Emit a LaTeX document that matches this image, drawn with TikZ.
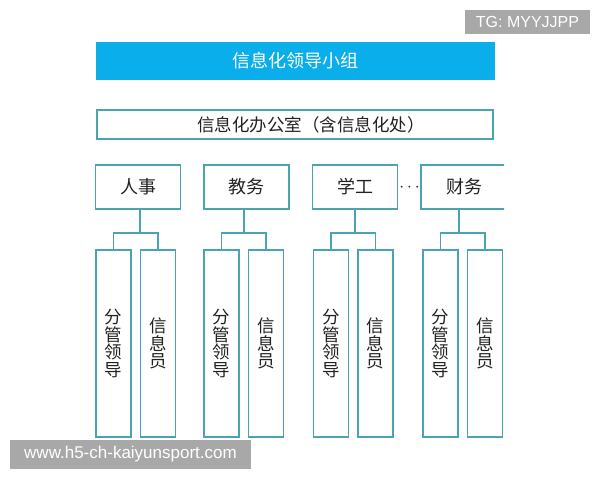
\documentclass[tikz,border=0pt]{standalone}
\usepackage{fontspec}
\setmainfont{Noto Sans CJK SC}
\newfontfamily\wmfont{Liberation Sans}
\definecolor{lineC}{HTML}{4AA3B1}
\definecolor{barC}{HTML}{0AAEEA}
\definecolor{txtC}{HTML}{222222}
\definecolor{wmC}{HTML}{A8A8A8}
\begin{document}
\begin{tikzpicture}[x=1pt,y=-1pt,
  box/.style={draw=lineC,line width=1.6pt,fill=white,inner sep=0pt,text=txtC},
  dept/.style={box,minimum width=85pt,minimum height=44pt,font=\fontsize{18}{18}\selectfont},
  col/.style={box,minimum width=35pt,minimum height=187pt,align=center,font=\fontsize{17.5}{17.6}\selectfont},
  conn/.style={draw=lineC,line width=1.6pt},
  wm/.style={fill=wmC,text=white,inner sep=0pt,font=\wmfont}]
\useasboundingbox (0,0) rectangle (600,480);
% top
\node[fill=barC,draw=barC!80!lineC,line width=0.6pt,minimum width=398pt,minimum height=37pt,inner sep=0pt,text=white,font=\fontsize{18}{18}\selectfont] (lead) at (295,60.5) {信息化领导小组};
\node[box,minimum width=396pt,minimum height=29pt] (office) at (295,124.5) {};
\node[text=txtC,inner sep=0pt,font=\fontsize{17.5}{17.5}\selectfont] (officetxt) at (311,124.5) {信息化办公室（含信息化处）};
% departments
\node[dept] (rs) at (138,187) {人事};
\node[dept] (jw) at (246.5,187) {教务};
\node[dept] (xg) at (355,187) {学工};
\begin{scope}
\clip (0,0) rectangle (504,480);
\node[dept,minimum width=86pt] (cw) at (464,187) {财务};
\end{scope}
\node[text=txtC,inner sep=0pt,font=\fontsize{18}{18}\selectfont] (dots) at (409.5,188) {$\cdots$};
% columns
\foreach \n/\x/\t in {c1a/113.5/{分\\管\\领\\导},c1b/158/{信\\息\\员},
  c2a/221.5/{分\\管\\领\\导},c2b/266/{信\\息\\员},
  c3a/331/{分\\管\\领\\导},c3b/375.5/{信\\息\\员},
  c4a/440.5/{分\\管\\领\\导},c4b/485/{信\\息\\员}}
  \node[col] (\n) at (\x,343.5) {\t};
% connectors
\coordinate (j1) at (140,233);
\coordinate (j2) at (244,233);
\coordinate (j3) at (355,233);
\coordinate (j4) at (459,233);
\draw[conn] (j1 |- rs.south) -- (j1);
\draw[conn] (j2 |- jw.south) -- (j2);
\draw[conn] (j3 |- xg.south) -- (j3);
\draw[conn] (j4 |- cw.south) -- (j4);
\draw[conn] (c1a.north) |- (j1) -| (c1b.north);
\draw[conn] (c2a.north) |- (j2) -| (c2b.north);
\draw[conn] (c3a.north) |- (j3) -| (c3b.north);
\draw[conn] (c4a.north) |- (j4) -| (c4b.north);
% watermarks
\node[wm,minimum width=125pt,minimum height=24pt,font=\wmfont\fontsize{16}{16}\selectfont] (tg) at (527.5,22) {TG: MYYJJPP};
\node[wm,minimum width=241pt,minimum height=29pt,font=\wmfont\fontsize{17}{17}\selectfont] (site) at (130.5,454.5) {www.h5-ch-kaiyunsport.com};
\end{tikzpicture}
\end{document}
